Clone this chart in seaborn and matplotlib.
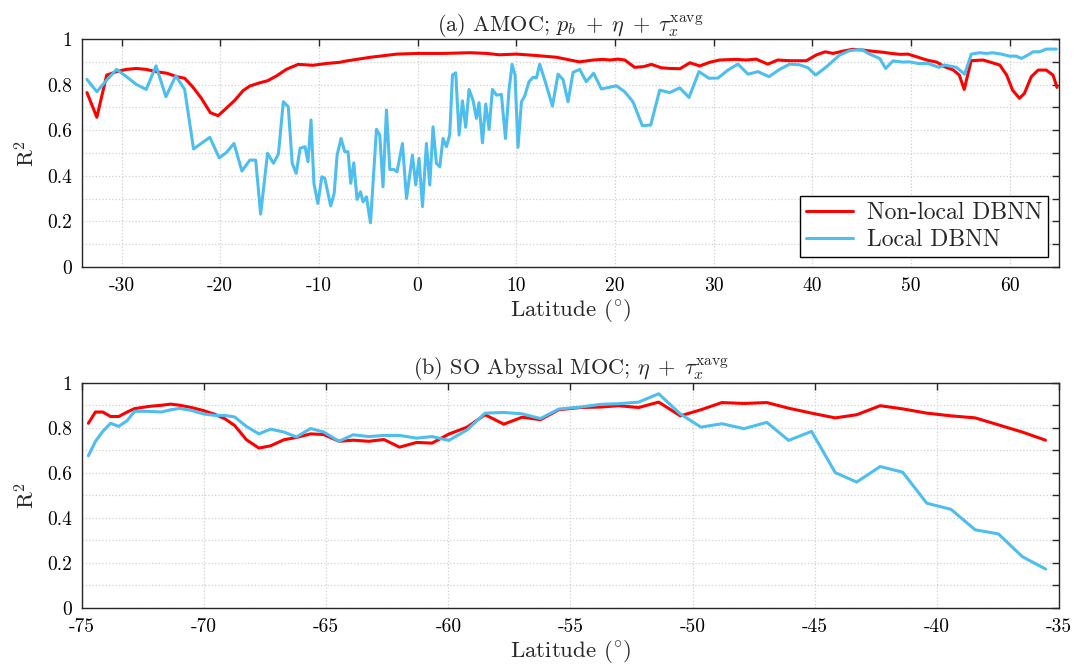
import numpy as np
import pandas as pd
import matplotlib
matplotlib.use("Agg")
import matplotlib.pyplot as plt
import seaborn as sns

# ---- data: (a) AMOC ----
amoc_lat_nl = [-33.5, -32.5, -31.5, -30.5, -29.5, -28.5, -27.5, -26.5, -25.4, -24.4, -23.6, -22.8,
               -21.9, -21.0, -20.2, -19.4, -18.5, -17.7, -17.0, -16.0, -15.2, -14.3, -13.3, -12.1,
               -10.6, -9.2, -7.9, -7.2, -4.8, -2.1, 0.0, 2.6, 5.3, 7.0, 8.3, 10.0, 12.0, 14.1,
               15.8, 16.4, 17.8, 18.8, 19.5, 20.3, 21.0, 22.0, 22.9, 23.7, 24.7, 25.6, 26.6, 27.6,
               28.6, 29.6, 30.6, 32.3, 33.3, 34.3, 35.5, 36.5, 37.7, 39.4, 40.4, 41.3, 42.1, 43.1,
               44.1, 45.1, 46.2, 47.2, 48.0, 48.9, 49.7, 50.6, 51.6, 52.6, 53.4, 54.3, 54.9, 55.4,
               56.1, 57.3, 58.1, 59.0, 59.7, 60.3, 61.0, 61.5, 62.2, 62.9, 63.7, 64.4, 64.8]
amoc_nonlocal = [0.765, 0.657, 0.842, 0.857, 0.867, 0.871, 0.867, 0.857, 0.85, 0.835, 0.828, 0.791,
                 0.74, 0.677, 0.664, 0.696, 0.732, 0.773, 0.794, 0.808, 0.817, 0.838, 0.867, 0.889,
                 0.885, 0.893, 0.898, 0.904, 0.92, 0.934, 0.937, 0.937, 0.94, 0.937, 0.931, 0.934, 0.928, 0.92,
                 0.905, 0.90, 0.908, 0.911, 0.908, 0.912, 0.908, 0.876, 0.879, 0.889, 0.874, 0.871, 0.87, 0.896,
                 0.882, 0.898, 0.908, 0.911, 0.908, 0.912, 0.89, 0.908, 0.905, 0.905, 0.93, 0.944, 0.937, 0.947,
                 0.955, 0.952, 0.946, 0.942, 0.937, 0.933, 0.934, 0.922, 0.908, 0.899, 0.879, 0.864, 0.842, 0.779,
                 0.905, 0.908, 0.898, 0.886, 0.842, 0.776, 0.74, 0.762, 0.835, 0.864, 0.864, 0.842, 0.788]

amoc_lat_loc = [-33.5, -32.5, -31.5, -30.5, -29.5, -28.5, -27.5, -26.5, -25.5, -24.5, -23.6, -22.7,
                -21.05, -20.1, -19.4, -18.6, -17.8, -17.0, -16.4, -15.9, -15.2, -14.6, -14.1, -13.6,
                -13.1, -12.7, -12.3, -11.9, -11.4, -11.1, -10.8, -10.5, -10.1, -9.7, -9.4, -8.8,
                -8.45, -8.15, -7.75, -7.38, -7.04, -6.77, -6.46, -6.13, -5.78, -5.52, -5.18, -4.77,
                -4.16, -3.83, -3.5, -3.15, -2.81, -2.41, -2.08, -1.53, -1.12, -0.52, -0.18, 0.15,
                0.5, 0.9, 1.24, 1.57, 1.91, 2.25, 2.58, 2.93, 3.26, 3.54, 3.87, 4.21, 4.55, 4.88,
                5.22, 5.62, 5.97, 6.23, 6.58, 6.91, 7.25, 7.59, 8.0, 8.5, 8.91, 9.27, 9.58, 9.88,
                10.18, 10.53, 10.86, 11.3, 11.7, 12.05, 12.38, 12.99, 13.67, 14.24, 14.74, 15.25,
                15.76, 16.43, 17.1, 17.85, 18.63, 20.15, 20.99, 21.83, 22.78, 23.63, 24.54, 25.55,
                26.57, 27.51, 28.52, 29.53, 30.45, 31.46, 32.47, 33.49, 34.5, 35.61, 36.7, 37.71,
                38.72, 39.57, 40.35, 41.43, 42.78, 43.79, 44.97, 45.81, 46.83, 47.44, 48.18, 49.19,
                49.87, 50.71, 51.72, 52.84, 53.41, 54.6, 55.44, 56.12, 56.96, 57.64, 58.31, 59.16,
                60.0, 60.68, 61.19, 61.86, 62.37, 63.04, 63.72, 64.73]
amoc_local = [0.823, 0.769, 0.82, 0.867, 0.835, 0.801, 0.779, 0.882, 0.747, 0.839, 0.779, 0.518,
              0.569, 0.479, 0.501, 0.542, 0.421, 0.469, 0.469, 0.232, 0.499, 0.455, 0.496, 0.725,
              0.703, 0.455, 0.411, 0.521, 0.528, 0.462, 0.645, 0.367, 0.279, 0.396, 0.389, 0.268,
              0.323, 0.491, 0.564, 0.506, 0.506, 0.367, 0.457, 0.297, 0.33, 0.286, 0.308, 0.194,
              0.604, 0.579, 0.352, 0.689, 0.428, 0.428, 0.418, 0.542, 0.301, 0.491, 0.36, 0.477,
              0.265, 0.542, 0.36, 0.615, 0.455, 0.44, 0.564, 0.528, 0.579, 0.842, 0.852, 0.579,
              0.729, 0.613, 0.779, 0.732, 0.652, 0.721, 0.545, 0.715, 0.604, 0.779, 0.754, 0.757,
              0.564, 0.776, 0.889, 0.842, 0.525, 0.725, 0.75, 0.813, 0.832, 0.83, 0.89, 0.806,
              0.706, 0.846, 0.823, 0.725, 0.854, 0.867, 0.813, 0.85, 0.781, 0.795, 0.769, 0.725,
              0.62, 0.623, 0.776, 0.765, 0.786, 0.744, 0.857, 0.828, 0.829, 0.864, 0.89, 0.846,
              0.857, 0.835, 0.867, 0.89, 0.887, 0.874, 0.842, 0.878, 0.93, 0.949, 0.955, 0.934,
              0.915, 0.871, 0.904, 0.899, 0.9, 0.893, 0.893, 0.876, 0.886, 0.876, 0.846, 0.934,
              0.94, 0.937, 0.94, 0.934, 0.925, 0.925, 0.915, 0.93, 0.944, 0.944, 0.956, 0.956]

# ---- data: (b) SO abyssal MOC ----
so_lat = [-74.74, -74.45, -74.15, -73.83, -73.5, -73.15, -72.85, -72.26, -71.75, -71.37, -71.0,
          -70.52, -70.05, -69.57, -69.15, -68.75, -68.27, -67.76, -67.28, -66.73, -66.22, -65.64,
          -65.1, -64.48, -63.9, -63.26, -62.64, -62.0, -61.3, -60.67, -59.98, -59.23, -58.5,
          -57.73, -56.98, -56.23, -55.48, -54.6, -53.78, -53.03, -52.21, -51.39, -50.5, -49.66,
          -48.8, -47.9, -46.96, -46.07, -45.13, -44.16, -43.28, -42.32, -41.4, -40.41, -39.42,
          -38.43, -37.48, -36.5, -35.55]
so_nonlocal = [0.82, 0.87, 0.87, 0.85, 0.85, 0.87, 0.885, 0.895, 0.90, 0.905, 0.90, 0.89, 0.877,
               0.86, 0.84, 0.81, 0.747, 0.71, 0.72, 0.747, 0.757, 0.773, 0.77, 0.74, 0.745, 0.74,
               0.748, 0.714, 0.735, 0.732, 0.772, 0.803, 0.858, 0.816, 0.847, 0.836, 0.88, 0.89,
               0.892, 0.898, 0.89, 0.914, 0.853, 0.88, 0.912, 0.908, 0.912, 0.887, 0.865, 0.844,
               0.858, 0.898, 0.884, 0.865, 0.853, 0.844, 0.813, 0.781, 0.745]
so_local = [0.676, 0.74, 0.784, 0.82, 0.806, 0.832, 0.873, 0.873, 0.87, 0.88, 0.886, 0.877, 0.862,
            0.855, 0.855, 0.848, 0.806, 0.773, 0.794, 0.781, 0.759, 0.797, 0.781, 0.74, 0.769,
            0.761, 0.766, 0.766, 0.754, 0.761, 0.744, 0.791, 0.865, 0.868, 0.862, 0.841, 0.883,
            0.892, 0.904, 0.907, 0.914, 0.951, 0.861, 0.803, 0.818, 0.796, 0.824, 0.744, 0.784,
            0.601, 0.559, 0.628, 0.603, 0.465, 0.438, 0.347, 0.329, 0.228, 0.173]

red = "#FF0000"
blue = "#4DBEEE"

sns.set_theme(style="white")
plt.rcParams["font.family"] = ["serif"]
plt.rcParams["font.serif"] = ["cmr10", "DejaVu Serif"]
plt.rcParams["mathtext.fontset"] = "cm"
plt.rcParams["axes.unicode_minus"] = False
plt.rcParams["axes.formatter.use_mathtext"] = True

fig = plt.figure(figsize=(10.88, 6.71), dpi=100)
ax1 = fig.add_axes([0.0754, 0.602, 0.8979, 0.3398])
ax2 = fig.add_axes([0.0754, 0.0939, 0.8979, 0.3357])

sns.lineplot(x=amoc_lat_nl, y=amoc_nonlocal, ax=ax1, color=red, lw=2.2, label="Non-local DBNN", sort=False)
sns.lineplot(x=amoc_lat_loc, y=amoc_local, ax=ax1, color=blue, lw=2.2, label="Local DBNN", sort=False)
sns.lineplot(x=so_lat, y=so_nonlocal, ax=ax2, color=red, lw=2.2, sort=False)
sns.lineplot(x=so_lat, y=so_local, ax=ax2, color=blue, lw=2.2, sort=False)

yt = np.round(np.arange(0, 1.01, 0.1), 1)
ylabs = ["0", "", "0.2", "", "0.4", "", "0.6", "", "0.8", "", "1"]

def style(ax, xt, xlim):
    ax.set_xlim(*xlim)
    ax.set_ylim(0, 1)
    ax.set_xticks(xt)
    ax.set_xticklabels([str(v) for v in xt])
    ax.set_yticks(yt)
    ax.set_yticklabels(ylabs)
    ax.grid(True, color="#d0d0d0", linestyle=":", linewidth=0.9)
    ax.tick_params(direction="in", length=5, width=1, top=True, right=True,
                   labelsize=14, colors="#262626", labelcolor="black", pad=7)
    for s in ax.spines.values():
        s.set_color("#262626")
        s.set_linewidth(1.0)
    ax.set_xlabel("Latitude ($^{\\circ}$)", fontsize=16.5, labelpad=2)
    ax.set_ylabel("R$^2$", fontsize=16.5, labelpad=6)

style(ax1, list(range(-30, 61, 10)), (-34, 65))
style(ax2, list(range(-75, -34, 5)), (-75, -35))

ax1.set_title("(a) AMOC; $p_b\\;+\\;\\eta\\;+\\;\\tau_x^{\\mathrm{xavg}}$", fontsize=16, pad=6)
ax2.set_title("(b) SO Abyssal MOC; $\\eta\\;+\\;\\tau_x^{\\mathrm{xavg}}$", fontsize=16, pad=6)

leg = ax1.legend(loc="lower right", bbox_to_anchor=(0.989, 0.044), borderaxespad=0,
                 fontsize=17, frameon=True, fancybox=False, framealpha=1,
                 edgecolor="black", handlelength=2.0, handletextpad=0.6,
                 borderpad=0.25, labelspacing=0.2)
leg.get_frame().set_linewidth(1.0)

fig.savefig("out.png", dpi=100)
